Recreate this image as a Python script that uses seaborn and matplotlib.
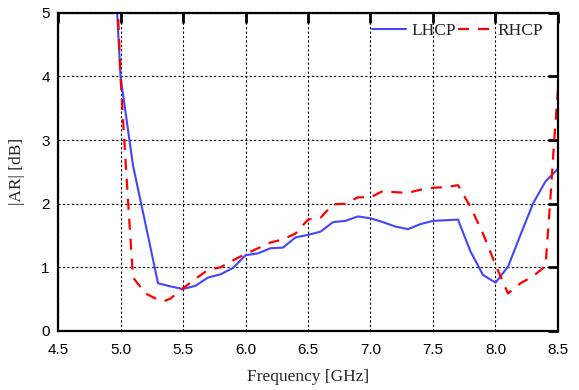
import numpy as np
import pandas as pd
import matplotlib
matplotlib.use("Agg")
import matplotlib.pyplot as plt
import seaborn as sns

# LHCP data
lhcp_freq = [4.95, 5.0, 5.1, 5.2, 5.3, 5.4, 5.5, 5.6, 5.7, 5.8, 5.9, 6.0, 6.1, 6.2, 6.3, 6.4,
             6.5, 6.6, 6.7, 6.8, 6.9, 7.0, 7.1, 7.2, 7.3, 7.4, 7.5, 7.6, 7.7, 7.8, 7.9,
             8.0, 8.1, 8.2, 8.3, 8.4, 8.5]
lhcp_ar = [5.85, 4.0, 2.6, 1.68, 0.75, 0.70, 0.66, 0.71, 0.84, 0.89, 0.99, 1.19, 1.22, 1.30, 1.31, 1.47,
           1.51, 1.56, 1.71, 1.73, 1.80, 1.77, 1.71, 1.64, 1.60, 1.68, 1.73, 1.74, 1.75, 1.25, 0.88,
           0.76, 1.01, 1.51, 2.0, 2.35, 2.55]

# RHCP data
rhcp_freq = [4.97, 5.0, 5.03, 5.06, 5.1, 5.2, 5.3, 5.35, 5.4, 5.5, 5.6, 5.7, 5.8, 5.9, 6.0, 6.1, 6.2,
             6.3, 6.4, 6.5, 6.6, 6.7, 6.8, 6.9, 7.0, 7.1, 7.2, 7.3, 7.4, 7.5, 7.6, 7.7, 7.8,
             7.9, 8.0, 8.1, 8.2, 8.3, 8.4, 8.44, 8.47, 8.5]
rhcp_ar = [5.5, 4.0, 3.0, 2.05, 0.84, 0.59, 0.49, 0.47, 0.51, 0.67, 0.82, 0.96, 1.0, 1.11, 1.21, 1.30, 1.39,
           1.44, 1.53, 1.75, 1.78, 1.99, 2.0, 2.10, 2.10, 2.20, 2.18, 2.17, 2.22, 2.25, 2.26, 2.29, 1.95,
           1.53, 1.04, 0.59, 0.75, 0.86, 1.02, 2.1, 3.0, 3.8]

x_ticks = [4.5, 5.0, 5.5, 6.0, 6.5, 7.0, 7.5, 8.0, 8.5]
y_ticks = [0, 1, 2, 3, 4, 5]

sns.set_style("white")
plt.rcParams['font.family'] = ['Liberation Sans', 'DejaVu Sans']

fig = plt.figure(figsize=(5.79, 3.90), dpi=100)
ax = fig.add_axes([0.1002, 0.1513, 0.8635, 0.8161])

df_l = pd.DataFrame({"Frequency": lhcp_freq, "AR": lhcp_ar})
df_r = pd.DataFrame({"Frequency": rhcp_freq, "AR": rhcp_ar})

sns.lineplot(data=df_l, x="Frequency", y="AR", ax=ax, color="#4444ff", lw=1.5,
             label="LHCP", sort=False, estimator=None)
sns.lineplot(data=df_r, x="Frequency", y="AR", ax=ax, color="#ff0000", lw=1.6,
             label="RHCP", sort=False, estimator=None, dashes=False)
ax.lines[-1].set_dashes([5, 4])

ax.set_xlim(4.5, 8.5)
ax.set_ylim(0, 5)
ax.set_xticks(x_ticks)
ax.set_xticklabels([f"{v:.1f}" for v in x_ticks])
ax.set_yticks(y_ticks)
ax.set_yticklabels([str(v) for v in y_ticks])

ax.grid(True, color="black", linestyle=(0, (2, 2)), linewidth=0.8)
ax.tick_params(direction="in", length=7, width=2, top=True, right=True,
               labelsize=11, colors="black")
ax.tick_params(axis="x", pad=9)
ax.tick_params(axis="y", pad=6)
for s in ax.spines.values():
    s.set_linewidth(1.6)
    s.set_color("black")

serif = ['Liberation Serif', 'DejaVu Serif']
ax.set_xlabel("Frequency [GHz]", fontsize=12.5, family=serif, labelpad=8)
ax.set_ylabel("|AR| [dB]", fontsize=12.5, family=serif, labelpad=12)

leg = ax.legend(loc="upper right", ncol=2, frameon=False, prop={'family': serif, 'size': 12.5},
                handlelength=1.95, columnspacing=0.1, handletextpad=0.35,
                borderaxespad=0.2, bbox_to_anchor=(0.992, 1.0))
for t in leg.get_texts():
    t.set_color("#222222")

fig.savefig("out.png", dpi=100)
